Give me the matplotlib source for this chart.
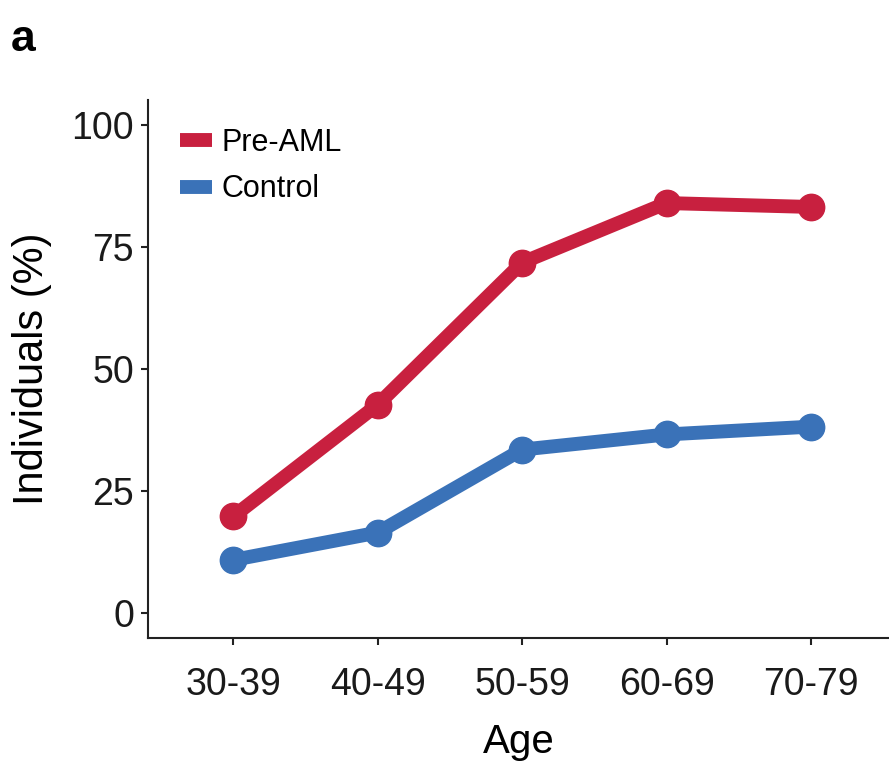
import matplotlib
matplotlib.use("Agg")
import matplotlib.pyplot as plt
from matplotlib.lines import Line2D

# data
age_groups = ["30-39", "40-49", "50-59", "60-69", "70-79"]
pre_aml = [19.8, 42.7, 71.8, 84.0, 83.2]
control = [10.9, 16.5, 33.5, 36.6, 38.2]
y_ticks = [0, 25, 50, 75, 100]

red = "#C8203F"
blue = "#3A72B8"

plt.rcParams['font.family'] = ['Liberation Sans', 'DejaVu Sans']

fig = plt.figure(figsize=(8.89, 7.62), dpi=100)
ax = fig.add_axes([0.1665, 0.1627, 0.8335, 0.706])

x = list(range(1, len(age_groups) + 1))
ax.plot(x, pre_aml, color=red, lw=10, marker='o', markersize=19,
        solid_capstyle='butt', label='Pre-AML', zorder=3)
ax.plot(x, control, color=blue, lw=10, marker='o', markersize=19,
        solid_capstyle='butt', label='Control', zorder=3)

ax.set_xlim(0.41, 5.54)
ax.set_ylim(-5.1, 105.1)
ax.set_xticks(x)
ax.set_xticklabels(age_groups)
ax.set_yticks(y_ticks)

for side in ['top', 'right']:
    ax.spines[side].set_visible(False)
for side in ['left', 'bottom']:
    ax.spines[side].set_linewidth(1.5)
    ax.spines[side].set_color('#222222')

ax.tick_params(axis='both', labelsize=27, width=1.5, length=5,
               color='#222222', labelcolor='#1a1a1a')
ax.tick_params(axis='x', pad=16)
ax.tick_params(axis='y', pad=5)
ax.set_xlabel('Age', fontsize=29, labelpad=14)
ax.set_ylabel('Individuals (%)', fontsize=30, labelpad=14)

# legend with thick bar handles, no markers
handles = [Line2D([0], [0], color=red, lw=10, solid_capstyle='butt'),
           Line2D([0], [0], color=blue, lw=10, solid_capstyle='butt')]
ax.legend(handles, ['Pre-AML', 'Control'], loc='upper left',
          bbox_to_anchor=(0.006, 1.0), frameon=False, fontsize=22,
          handlelength=1.05, handletextpad=0.3, labelspacing=0.55)

fig.text(0.012, 0.975, 'a', fontsize=32, fontweight='bold', va='top', ha='left')

plt.savefig("out.png", dpi=100)
